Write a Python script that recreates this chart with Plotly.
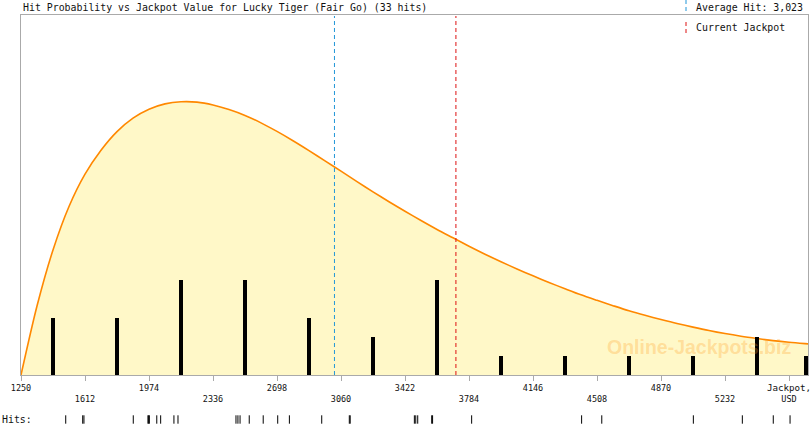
import plotly.graph_objects as go

title = "Hit Probability vs Jackpot Value for Lucky Tiger (Fair Go) (33 hits)"
mono = "DejaVu Sans Mono"

# fitted probability curve (jackpot USD, height in hit units)
curve_x = [1250, 1340.5, 1431, 1521.5, 1612, 1702.5, 1793, 1883.5, 1974, 2064.5,
           2155, 2245.5, 2336, 2426.5, 2517, 2607.5, 2698, 2788.5, 2879, 2969.5,
           3060, 3150.5, 3241, 3331.5, 3422, 3512.5, 3603, 3693.5, 3784, 3874.5,
           3965, 4055.5, 4146, 4236.5, 4327, 4417.5, 4508, 4598.5, 4689, 4779.5,
           4870, 4960.5, 5051, 5141.5, 5232, 5322.5, 5413, 5503.5, 5594, 5684.5, 5775]
curve_y = [0.0, 3.63, 6.58, 8.87, 10.57, 11.83, 12.81, 13.52, 13.99, 14.27,
           14.38, 14.36, 14.21, 13.97, 13.66, 13.27, 12.82, 12.33, 11.81, 11.27,
           10.73, 10.18, 9.64, 9.12, 8.62, 8.13, 7.66, 7.22, 6.78, 6.36,
           5.96, 5.58, 5.22, 4.87, 4.54, 4.22, 3.93, 3.65, 3.38, 3.14,
           2.92, 2.71, 2.52, 2.34, 2.18, 2.04, 1.92, 1.81, 1.72, 1.65, 1.59]

# histogram, one bar per 362 USD bin
bin_centers = [1431, 1793, 2155, 2517, 2879, 3241, 3603, 3965, 4327, 4689, 5051, 5413, 5690]
bin_counts = [3, 3, 5, 5, 3, 2, 5, 1, 1, 1, 1, 2, 1]

# every single hit
hits = [1503, 1599, 1606, 1885, 1968, 1972, 1976, 2018, 2040, 2115, 2138, 2466, 2477,
        2489, 2541, 2620, 2702, 2768, 2951, 3107, 3112, 3475, 3483, 3494, 3573, 3578,
        3799, 4421, 4535, 5053, 5330, 5505, 5600]

average_hit = 3023
current_jackpot = 3710

tick_vals = [1250, 1612, 1974, 2336, 2698, 3060, 3422, 3784, 4146, 4508, 4870, 5232, 5594]
tick_text = []
for i, v in enumerate(tick_vals):
    if i == len(tick_vals) - 1:
        tick_text.append("<span style='font-size:9.2px'>Jackpot,</span><br>USD")
    elif i % 2 == 0:
        tick_text.append(str(v))
    else:
        tick_text.append("<br>" + str(v))

W, H = 810, 425
mt, mb, ml, mr = 15, 2, 21, 2
ph = H - mt - mb
pw = W - ml - mr
y_top = 360 / 19


def py(p):
    # pixel row -> paper y
    return (H - mb - p) / ph


def pxx(p):
    return (p - ml) / pw


fig = go.Figure()

fig.add_trace(go.Scatter(
    x=curve_x, y=curve_y,
    mode="lines",
    line=dict(color="#ff8800", width=1.6, shape="spline", smoothing=0.8),
    fill="tozeroy",
    fillcolor="#fff8c8",
    hoverinfo="skip",
))

fig.add_trace(go.Bar(
    x=bin_centers, y=bin_counts,
    yaxis="y3",
    width=22.6,
    marker=dict(color="black", line=dict(width=0)),
))

fig.add_trace(go.Scatter(
    x=hits, y=[0.5] * len(hits),
    yaxis="y2",
    mode="markers",
    marker=dict(symbol="line-ns", size=6, line=dict(color="black", width=1)),
    cliponaxis=False,
))

fig.add_shape(type="line", xref="x", yref="paper", x0=average_hit, x1=average_hit,
              y0=py(375), y1=py(16), line=dict(color="#2196d8", width=1, dash="4px,3px"))
fig.add_shape(type="line", xref="x", yref="paper", x0=current_jackpot, x1=current_jackpot,
              y0=py(375), y1=py(16), line=dict(color="#dd1111", width=1, dash="4px,3px"))

# legend swatches
fig.add_shape(type="line", xref="paper", yref="paper", x0=pxx(686), x1=pxx(686),
              y0=py(11), y1=py(0), line=dict(color="#2196d8", width=1, dash="4px,3px"))
fig.add_shape(type="line", xref="paper", yref="paper", x0=pxx(686), x1=pxx(686),
              y0=py(33), y1=py(21), line=dict(color="#dd1111", width=1, dash="4px,3px"))

fig.add_annotation(text=title, xref="paper", yref="paper", x=0, y=py(7),
                   xanchor="left", yanchor="middle", showarrow=False,
                   font=dict(family=mono, size=9.9, color="#111111"))
fig.add_annotation(text=f"Average Hit: {average_hit:,}", xref="paper", yref="paper",
                   x=pxx(694), y=py(7), xanchor="left", yanchor="middle", showarrow=False,
                   font=dict(family=mono, size=9.9, color="#111111"))
fig.add_annotation(text="Current Jackpot", xref="paper", yref="paper",
                   x=pxx(694), y=py(27), xanchor="left", yanchor="middle", showarrow=False,
                   font=dict(family=mono, size=9.9, color="#111111"))
fig.add_annotation(text="Hits:", xref="paper", yref="paper",
                   x=pxx(0), y=py(419), xanchor="left", yanchor="middle", showarrow=False,
                   font=dict(family=mono, size=9.9, color="#111111"))
fig.add_annotation(text="<b>Online-Jackpots.biz</b>", xref="paper", yref="paper",
                   x=pxx(699), y=py(347), xanchor="center", yanchor="middle", showarrow=False,
                   font=dict(family="Liberation Sans", size=19.5, color="rgba(255,160,40,0.3)"))

fig.update_layout(
    width=W, height=H,
    margin=dict(l=ml, r=mr, t=mt, b=mb),
    plot_bgcolor="white",
    paper_bgcolor="white",
    showlegend=False,
    bargap=0,
    xaxis=dict(
        range=[1250, 1250 + pw * 5.65625],
        anchor="y",
        tickvals=tick_vals, ticktext=tick_text,
        ticks="outside", ticklen=5, tickcolor="#aaaaaa",
        tickfont=dict(family=mono, size=8.5, color="#111111"),
        ticklabeloverflow="allow",
        showline=True, linecolor="#aaaaaa", linewidth=1, mirror=True,
        showgrid=False, zeroline=False, automargin=False,
    ),
    yaxis=dict(
        domain=[py(375), 1],
        range=[0, y_top],
        showticklabels=False, ticks="",
        showline=True, linecolor="#aaaaaa", linewidth=1, mirror=True,
        showgrid=False, zeroline=False, automargin=False,
    ),
    yaxis3=dict(
        overlaying="y",
        range=[0, y_top],
        visible=False,
        showgrid=False, zeroline=False,
    ),
    yaxis2=dict(
        domain=[0, py(416)],
        range=[0, 1],
        visible=False,
        anchor="x",
    ),
)

fig.write_html("out.html", config={"displayModeBar": False},
               post_script="document.body.style.margin = '0';")
